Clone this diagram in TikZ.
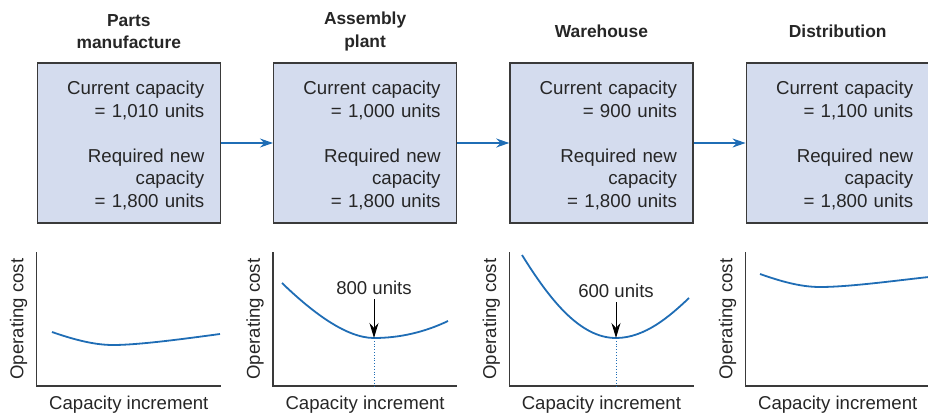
\documentclass[tikz,border=0pt]{standalone}
\usepackage{fontspec}
\setmainfont{Liberation Sans}
\usetikzlibrary{arrows.meta, calc}

\definecolor{boxfill}{HTML}{D4DCEE}
\definecolor{curveblue}{HTML}{1F6DB5}
\definecolor{edgegray}{HTML}{3A3A3A}
\definecolor{inkgray}{HTML}{262626}

\tikzset{
  stagebox/.style={draw=edgegray, line width=1.3pt, fill=boxfill,
    minimum width=183pt, minimum height=160pt},
  boxtext/.style={text=inkgray, text width=151pt, inner sep=0pt,
    align=right, font=\fontsize{18.7}{22.6}\selectfont},
  stagehead/.style={text=inkgray, align=center, font=\fontsize{17.4}{22.5}\selectfont\bfseries},
  flowarrow/.style={draw=curveblue, line width=1.1pt, -{Stealth[length=13pt, width=9pt]}},
  axisline/.style={draw=edgegray, line width=1.2pt},
  axislabel/.style={text=inkgray, font=\fontsize{18.6}{22}\selectfont},
  costcurve/.style={draw=curveblue, line width=1.8pt},
  markarrow/.style={draw=black, line width=1pt, -{Stealth[length=15pt, width=9pt]}},
  dropline/.style={draw=curveblue, line width=0.8pt, dotted},
}

\begin{document}
\begin{tikzpicture}[x=1pt, y=-1pt]
  \useasboundingbox (0,0) rectangle (928,415);

  % stages: boxes, headings and the cost graphs below them
  \foreach \i/\cur/\head in {1/{1,010}/{Parts\\manufacture}, 2/{1,000}/{Assembly\\plant},
      3/900/Warehouse, 4/{1,100}/Distribution} {
    \pgfmathsetmacro{\cx}{128.8+236.3*(\i-1)}
    \node[stagebox] (box\i) at (\cx,143) {};
    \node[boxtext] (txt\i) at (\cx,145.5)
      {Current capacity\\= \cur\ units\\[22.5pt]Required new\\capacity\\= 1,800 units};
    \node[stagehead] (head\i) at (\cx,31.5) {\head};
    \coordinate (o\i) at ($(box\i.west)+(0,243)$);
    \coordinate (top\i) at ($(box\i.west)+(0,109)$);
    \coordinate (end\i) at ($(box\i.east)+(0,243)$);
    \draw[axisline] (top\i) -- (o\i) -- (end\i);
    \node[axislabel, rotate=90] (ylab\i) at ($(box\i.west)+(-18,176)$) {Operating cost};
    \node[axislabel] (xlab\i) at (\cx,405) {Capacity increment};
  }

  \draw[flowarrow] (box1) -- (box2);
  \draw[flowarrow] (box2) -- (box3);
  \draw[flowarrow] (box3) -- (box4);

  % cost curves
  \draw[costcurve] (52,332) .. controls (75,340) and (95,345) .. (113,345)
    .. controls (140,345) and (190,338) .. (220,334);
  \draw[costcurve] (282,283) .. controls (310,310) and (345,338) .. (374,338)
    .. controls (400,338) and (425,332) .. (448,321);
  \draw[costcurve] (522,255) .. controls (550,300) and (580,338) .. (616,338)
    .. controls (645,338) and (670,316) .. (689,298);
  \draw[costcurve] (760,274) .. controls (780,281) and (800,287) .. (820,287)
    .. controls (850,287) and (900,280) .. (929,277);

  % optimum markers
  \coordinate (min2) at (374,338);
  \coordinate (min3) at (616,338);
  \node[axislabel, inner sep=4pt] (opt2) at (374,288) {800 units};
  \node[axislabel, inner sep=4pt] (opt3) at (616,291) {600 units};
  \draw[markarrow] (opt2) -- (min2);
  \draw[markarrow] (opt3) -- (min3);
  \draw[dropline] (min2) -- (min2 |- o2);
  \draw[dropline] (min3) -- (min3 |- o3);
\end{tikzpicture}
\end{document}
